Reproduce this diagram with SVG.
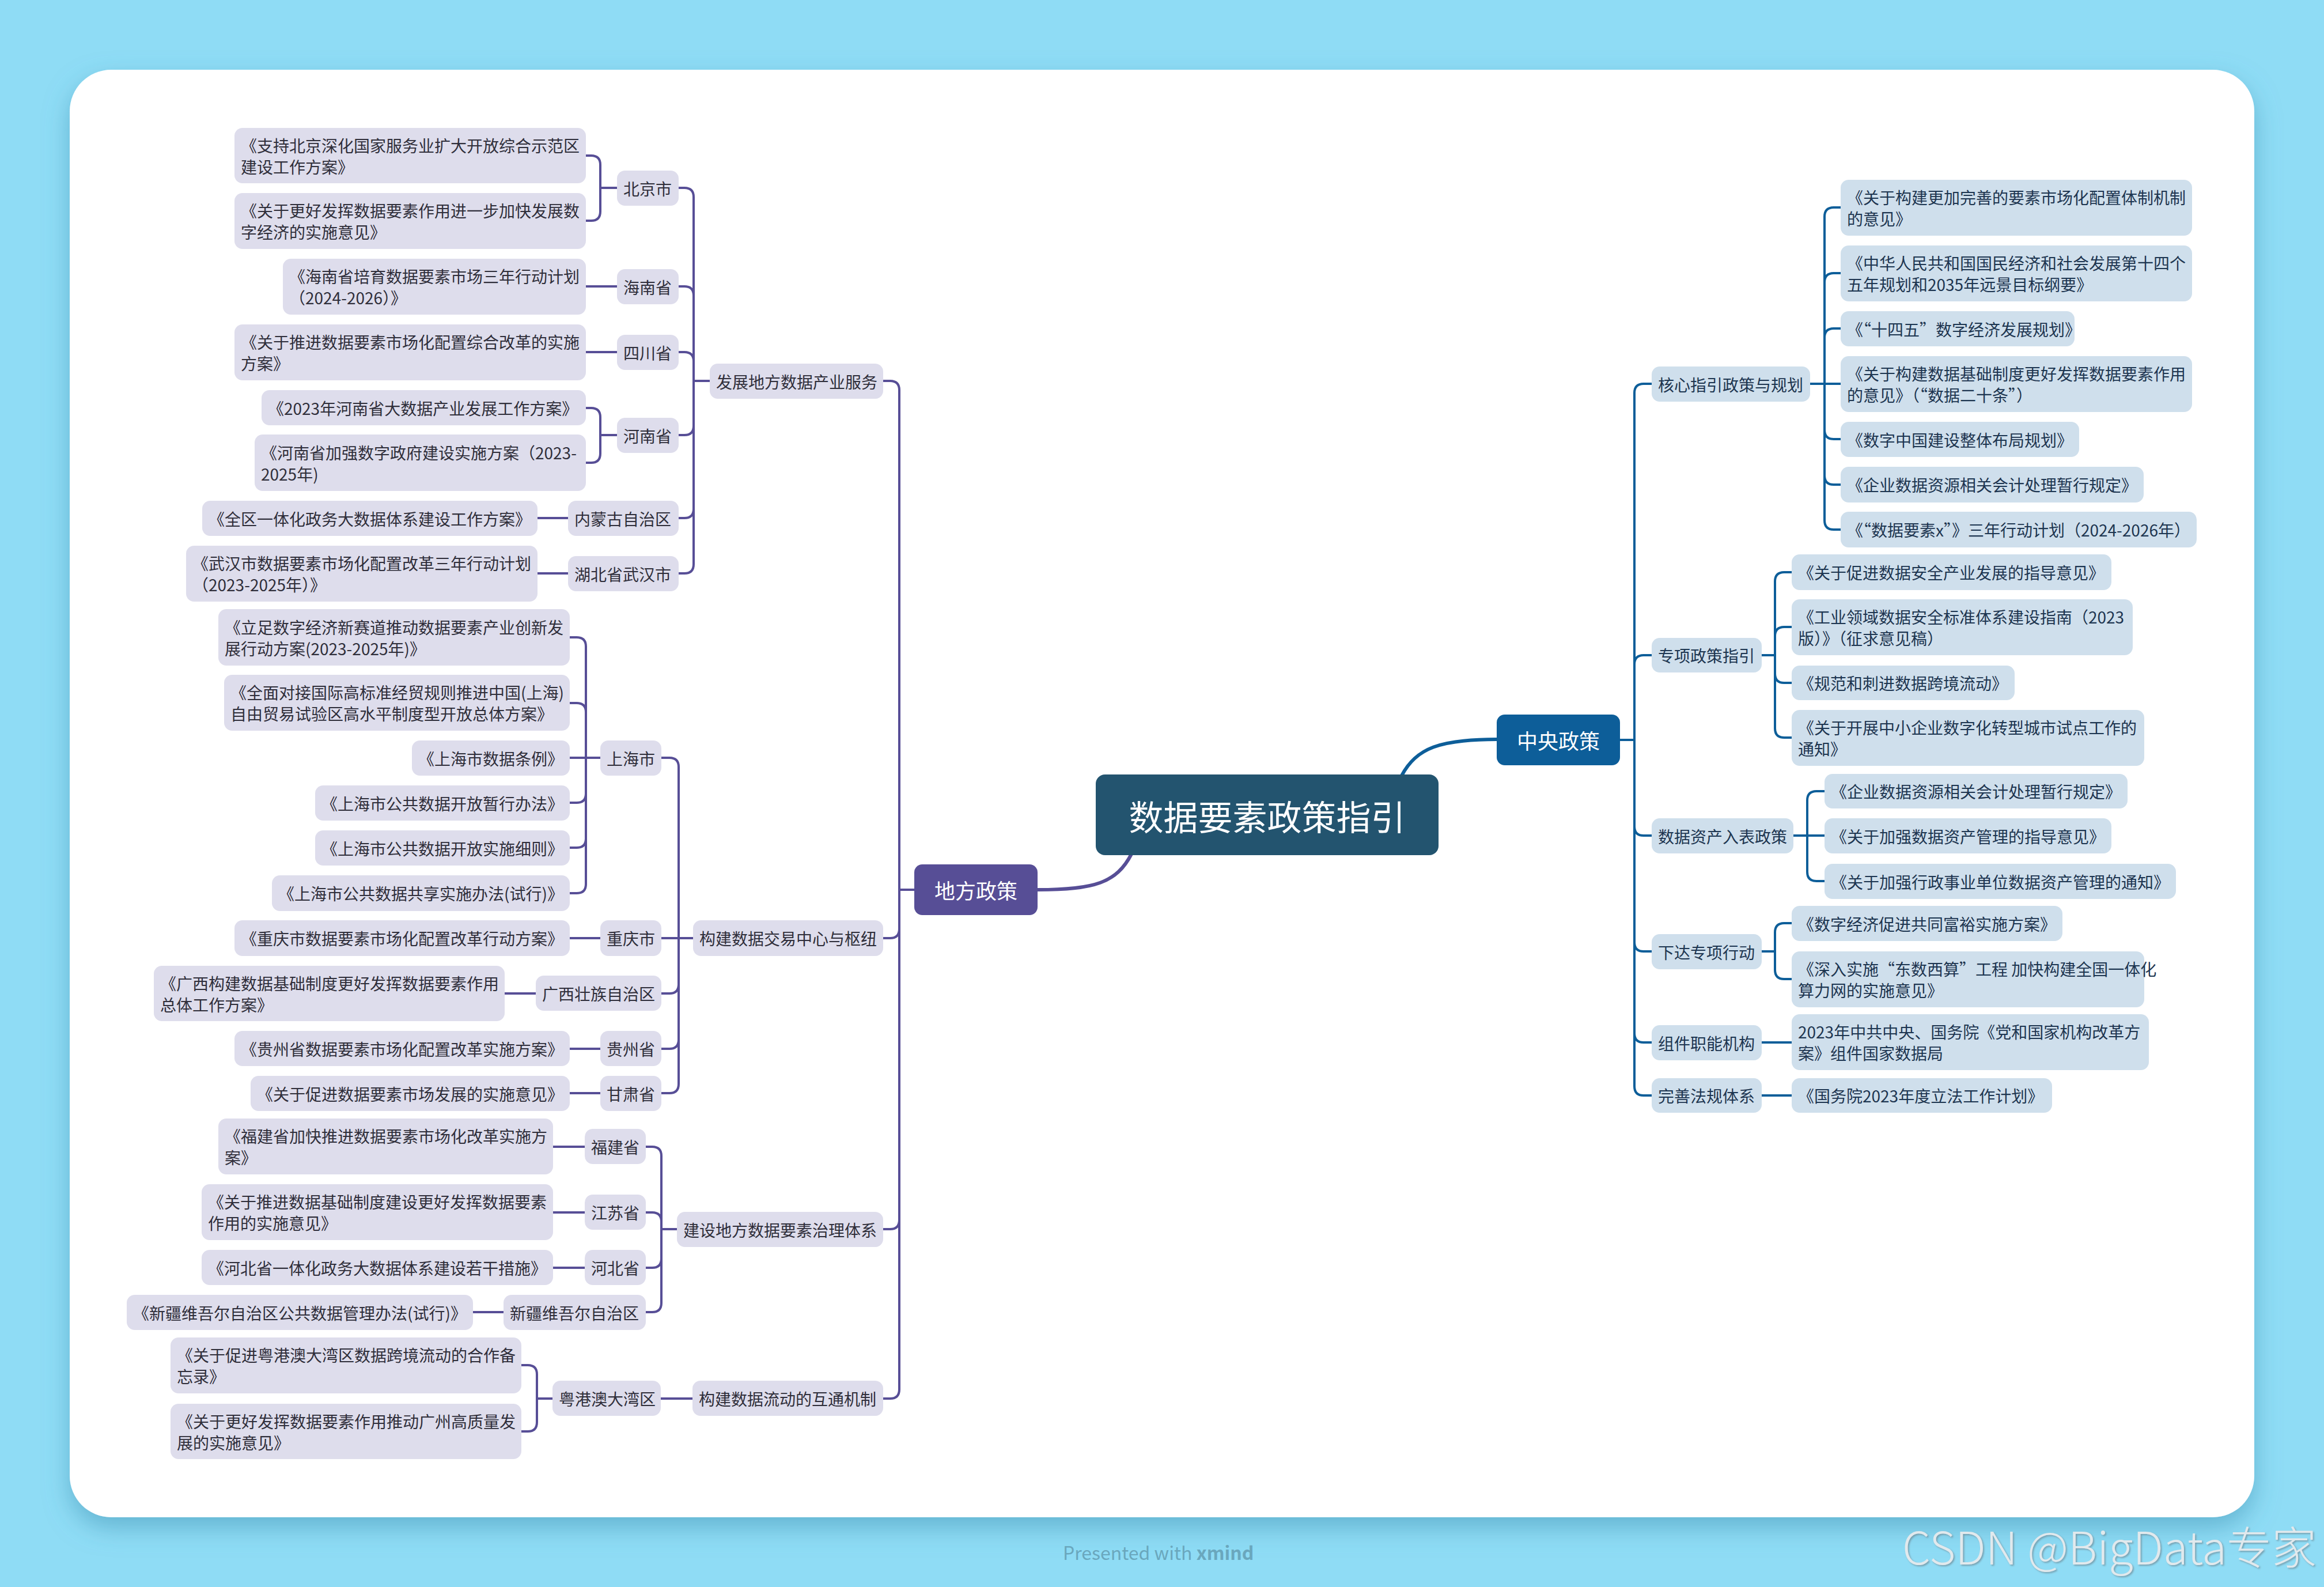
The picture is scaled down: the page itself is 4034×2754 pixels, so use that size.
<svg xmlns="http://www.w3.org/2000/svg" width="4034" height="2754" viewBox="0 0 4034 2754">
<defs>
<filter id="cardShadow" x="-5%" y="-5%" width="110%" height="115%">
<feDropShadow dx="0" dy="18" stdDeviation="22" flood-color="#3f93b4" flood-opacity="0.55"/>
</filter>
<filter id="wmShadow" x="-5%" y="-20%" width="110%" height="140%">
<feDropShadow dx="2" dy="2" stdDeviation="1.5" flood-color="#6f8f9c" flood-opacity="0.8"/>
</filter>
<style>
text{font-family:'Noto Sans CJK SC','Noto Sans',sans-serif;}
.l rect{fill:#DEDDEC;}
.r rect{fill:#CFDFEC;}
.l text{fill:#2f2e3a;font-size:28px;dominant-baseline:central;}
.r text{fill:#1d3550;font-size:28px;dominant-baseline:central;}
.cl{fill:none;stroke:#574E96;stroke-width:4;stroke-linecap:round;}
.cr{fill:none;stroke:#0D5E99;stroke-width:4;stroke-linecap:round;}
.main text{fill:#ffffff;dominant-baseline:central;text-anchor:middle;}
</style>
</defs>
<rect x="0" y="0" width="4034" height="2754" fill="#8FDCF5"/>
<rect x="121" y="121" width="3792" height="2512" rx="72" fill="#ffffff" filter="url(#cardShadow)"/>

<g id="connectors">
<path class="cl" d="M1964 1482C1938 1532 1900 1544 1801 1544" style="stroke-width:6"/>
<path class="cr" d="M2433 1346C2458 1298 2500 1283 2598 1283" style="stroke-width:6"/>
<!-- left main -->
<path class="cl" d="M1533 661H1545Q1561 661 1561 677V1544M1533 1628H1545Q1561 1628 1561 1612V1544M1533 2133H1545Q1561 2133 1561 2117V1544M1533 2427H1545Q1561 2427 1561 2411V1544M1561 1544H1587"/>
<!-- 发展 -->
<path class="cl" d="M1178 326H1188Q1204 326 1204 342V661M1178 497H1188Q1204 497 1204 513V661M1178 611H1188Q1204 611 1204 627V661M1178 755H1188Q1204 755 1204 739V661M1178 899H1188Q1204 899 1204 883V661M1178 995H1188Q1204 995 1204 979V661M1204 661H1232"/>
<path class="cl" d="M1017 270H1026Q1042 270 1042 286V326M1017 383H1026Q1042 383 1042 367V326M1042 326H1071"/>
<path class="cl" d="M1017 497H1071M1017 611H1071"/>
<path class="cl" d="M1017 708H1026Q1042 708 1042 724V755M1017 803H1026Q1042 803 1042 787V755M1042 755H1071"/>
<path class="cl" d="M933 899H986M933 995H986"/>
<!-- 构建交易 -->
<path class="cl" d="M1148 1315H1162Q1178 1315 1178 1331V1628M1148 1628H1178M1148 1724H1162Q1178 1724 1178 1708V1628M1148 1820H1162Q1178 1820 1178 1804V1628M1148 1897H1162Q1178 1897 1178 1881V1628M1178 1628H1203"/>
<path class="cl" d="M989 1106H1001Q1017 1106 1017 1122V1315M989 1220H1001Q1017 1220 1017 1236V1315M989 1315H1017M989 1393H1001Q1017 1393 1017 1377V1315M989 1471H1001Q1017 1471 1017 1455V1315M989 1550H1001Q1017 1550 1017 1534V1315M1017 1315H1042"/>
<path class="cl" d="M989 1628H1042M876 1724H930M989 1820H1042M989 1897H1042"/>
<!-- 治理体系 -->
<path class="cl" d="M1121 1990H1132Q1148 1990 1148 2006V2133M1121 2104H1132Q1148 2104 1148 2120V2133M1121 2200H1132Q1148 2200 1148 2184V2133M1121 2277H1132Q1148 2277 1148 2261V2133M1148 2133H1175"/>
<path class="cl" d="M960 1990H1015M960 2104H1015M960 2200H1015M821 2277H874"/>
<!-- 互通 -->
<path class="cl" d="M1147 2427H1202"/>
<path class="cl" d="M905 2369H916Q932 2369 932 2385V2427M905 2484H916Q932 2484 932 2468V2427M932 2427H959"/>
<!-- right main -->
<path class="cr" d="M2867 666H2853Q2837 666 2837 682V1284M2867 1137H2853Q2837 1137 2837 1153V1284M2867 1450H2853Q2837 1450 2837 1434V1284M2867 1651H2853Q2837 1651 2837 1635V1284M2867 1809H2853Q2837 1809 2837 1793V1284M2867 1901H2853Q2837 1901 2837 1885V1284M2812 1284H2837"/>
<path class="cr" d="M3195 360H3183Q3167 360 3167 376V666M3195 474H3183Q3167 474 3167 490V666M3195 570H3183Q3167 570 3167 586V666M3195 666H3167M3195 762H3183Q3167 762 3167 746V666M3195 841H3183Q3167 841 3167 825V666M3195 919H3183Q3167 919 3167 903V666M3142 666H3167"/>
<path class="cr" d="M3110 993H3097Q3081 993 3081 1009V1137M3110 1088H3097Q3081 1088 3081 1104V1137M3110 1185H3097Q3081 1185 3081 1169V1137M3110 1280H3097Q3081 1280 3081 1264V1137M3058 1137H3081"/>
<path class="cr" d="M3167 1373H3153Q3137 1373 3137 1389V1450M3167 1450H3137M3167 1529H3153Q3137 1529 3137 1513V1450M3113 1450H3137"/>
<path class="cr" d="M3110 1602H3097Q3081 1602 3081 1618V1651M3110 1699H3097Q3081 1699 3081 1683V1651M3058 1651H3081"/>
<path class="cr" d="M3058 1809H3110M3058 1901H3110"/>
</g>

<!-- central -->
<g id="root" class="main">
<rect x="1902" y="1344" width="595" height="140" rx="16" fill="#23546F"/>
<text x="2199.5" y="1414" font-size="60">数据要素政策指引</text>
</g>
<g id="central-policy" class="main">
<rect x="2598" y="1240" width="214" height="88" rx="14" fill="#0D5E99"/>
<text x="2705" y="1284" font-size="36">中央政策</text>
</g>
<g id="local-policy" class="main">
<rect x="1587" y="1500" width="214" height="88" rx="14" fill="#574E96"/>
<text x="1694" y="1544" font-size="36">地方政策</text>
</g>

<!-- LEFT: level 2 -->
<g id="l2-fazhan" class="l"><rect x="1232" y="631" width="301" height="61" rx="14"/><text x="1243" y="661.5">发展地方数据产业服务</text></g>
<g id="l2-jiaoyi" class="l"><rect x="1203" y="1597" width="330" height="62" rx="14"/><text x="1214" y="1628">构建数据交易中心与枢纽</text></g>
<g id="l2-zhili" class="l"><rect x="1175" y="2103" width="358" height="61" rx="14"/><text x="1186" y="2133.5">建设地方数据要素治理体系</text></g>
<g id="l2-hutong" class="l"><rect x="1202" y="2396" width="331" height="61" rx="14"/><text x="1213" y="2426.5">构建数据流动的互通机制</text></g>

<!-- LEFT: level 3 -->
<g id="l3-beijing" class="l"><rect x="1071" y="296" width="107" height="61" rx="14"/><text x="1082" y="326.5">北京市</text></g>
<g id="l3-hainan" class="l"><rect x="1071" y="467" width="107" height="61" rx="14"/><text x="1082" y="497.5">海南省</text></g>
<g id="l3-sichuan" class="l"><rect x="1071" y="581" width="107" height="61" rx="14"/><text x="1082" y="611.5">四川省</text></g>
<g id="l3-henan" class="l"><rect x="1071" y="725" width="107" height="61" rx="14"/><text x="1082" y="755.5">河南省</text></g>
<g id="l3-neimenggu" class="l"><rect x="986" y="869" width="192" height="61" rx="14"/><text x="997" y="899.5">内蒙古自治区</text></g>
<g id="l3-wuhan" class="l"><rect x="986" y="965" width="192" height="61" rx="14"/><text x="997" y="995.5">湖北省武汉市</text></g>
<g id="l3-shanghai" class="l"><rect x="1042" y="1285" width="106" height="61" rx="14"/><text x="1053" y="1315.5">上海市</text></g>
<g id="l3-chongqing" class="l"><rect x="1042" y="1597" width="106" height="62" rx="14"/><text x="1053" y="1628">重庆市</text></g>
<g id="l3-guangxi" class="l"><rect x="930" y="1693" width="218" height="61" rx="14"/><text x="941" y="1723.5">广西壮族自治区</text></g>
<g id="l3-guizhou" class="l"><rect x="1042" y="1789" width="106" height="61" rx="14"/><text x="1053" y="1819.5">贵州省</text></g>
<g id="l3-gansu" class="l"><rect x="1042" y="1867" width="106" height="61" rx="14"/><text x="1053" y="1897.5">甘肃省</text></g>
<g id="l3-fujian" class="l"><rect x="1015" y="1959" width="106" height="61" rx="14"/><text x="1026" y="1989.5">福建省</text></g>
<g id="l3-jiangsu" class="l"><rect x="1015" y="2073" width="106" height="61" rx="14"/><text x="1026" y="2103.5">江苏省</text></g>
<g id="l3-hebei" class="l"><rect x="1015" y="2169" width="106" height="61" rx="14"/><text x="1026" y="2199.5">河北省</text></g>
<g id="l3-xinjiang" class="l"><rect x="874" y="2247" width="247" height="61" rx="14"/><text x="885" y="2277.5">新疆维吾尔自治区</text></g>
<g id="l3-yuegangao" class="l"><rect x="959" y="2396" width="188" height="61" rx="14"/><text x="970" y="2426.5">粤港澳大湾区</text></g>

<!-- LEFT: leaves -->
<g id="lf-bj1" class="l"><rect x="407" y="222" width="610" height="96" rx="14"/><text x="418" y="251.5">《支持北京深化国家服务业扩大开放综合示范区</text><text x="418" y="288.5">建设工作方案》</text></g>
<g id="lf-bj2" class="l"><rect x="407" y="335" width="610" height="97" rx="14"/><text x="418" y="365">《关于更好发挥数据要素作用进一步加快发展数</text><text x="418" y="402">字经济的实施意见》</text></g>
<g id="lf-hn" class="l"><rect x="491" y="449" width="526" height="97" rx="14"/><text x="502" y="479">《海南省培育数据要素市场三年行动计划</text><text x="502" y="516">（2024-2026）》</text></g>
<g id="lf-sc" class="l"><rect x="407" y="563" width="610" height="97" rx="14"/><text x="418" y="593">《关于推进数据要素市场化配置综合改革的实施</text><text x="418" y="630">方案》</text></g>
<g id="lf-hen1" class="l"><rect x="454" y="677" width="563" height="61" rx="14"/><text x="465" y="707.5">《2023年河南省大数据产业发展工作方案》</text></g>
<g id="lf-hen2" class="l"><rect x="442" y="754" width="575" height="98" rx="14"/><text x="453" y="784.5">《河南省加强数字政府建设实施方案（2023-</text><text x="453" y="821.5">2025年)</text></g>
<g id="lf-nmg" class="l"><rect x="351" y="869" width="582" height="61" rx="14"/><text x="362" y="899.5">《全区一体化政务大数据体系建设工作方案》</text></g>
<g id="lf-wh" class="l"><rect x="323" y="947" width="610" height="97" rx="14"/><text x="334" y="977">《武汉市数据要素市场化配置改革三年行动计划</text><text x="334" y="1014">（2023-2025年）》</text></g>

<g id="lf-sh1" class="l"><rect x="379" y="1057" width="610" height="98" rx="14"/><text x="390" y="1087.5">《立足数字经济新赛道推动数据要素产业创新发</text><text x="390" y="1124.5">展行动方案(2023-2025年)》</text></g>
<g id="lf-sh2" class="l"><rect x="389" y="1171" width="600" height="97" rx="14"/><text x="400" y="1201">《全面对接国际高标准经贸规则推进中国(上海)</text><text x="400" y="1238">自由贸易试验区高水平制度型开放总体方案》</text></g>
<g id="lf-sh3" class="l"><rect x="715" y="1285" width="274" height="61" rx="14"/><text x="726" y="1315.5">《上海市数据条例》</text></g>
<g id="lf-sh4" class="l"><rect x="547" y="1363" width="442" height="61" rx="14"/><text x="558" y="1393.5">《上海市公共数据开放暂行办法》</text></g>
<g id="lf-sh5" class="l"><rect x="547" y="1441" width="442" height="61" rx="14"/><text x="558" y="1471.5">《上海市公共数据开放实施细则》</text></g>
<g id="lf-sh6" class="l"><rect x="472" y="1519" width="517" height="62" rx="14"/><text x="483" y="1550">《上海市公共数据共享实施办法(试行)》</text></g>
<g id="lf-cq" class="l"><rect x="407" y="1597" width="582" height="62" rx="14"/><text x="418" y="1628">《重庆市数据要素市场化配置改革行动方案》</text></g>
<g id="lf-gx" class="l"><rect x="267" y="1676" width="609" height="96" rx="14"/><text x="278" y="1705.5">《广西构建数据基础制度更好发挥数据要素作用</text><text x="278" y="1742.5">总体工作方案》</text></g>
<g id="lf-gz" class="l"><rect x="407" y="1789" width="582" height="61" rx="14"/><text x="418" y="1819.5">《贵州省数据要素市场化配置改革实施方案》</text></g>
<g id="lf-gs" class="l"><rect x="435" y="1867" width="554" height="61" rx="14"/><text x="446" y="1897.5">《关于促进数据要素市场发展的实施意见》</text></g>

<g id="lf-fj" class="l"><rect x="379" y="1941" width="581" height="97" rx="14"/><text x="390" y="1971">《福建省加快推进数据要素市场化改革实施方</text><text x="390" y="2008">案》</text></g>
<g id="lf-js" class="l"><rect x="350" y="2055" width="610" height="97" rx="14"/><text x="361" y="2085">《关于推进数据基础制度建设更好发挥数据要素</text><text x="361" y="2122">作用的实施意见》</text></g>
<g id="lf-hb" class="l"><rect x="350" y="2169" width="610" height="61" rx="14"/><text x="361" y="2199.5">《河北省一体化政务大数据体系建设若干措施》</text></g>
<g id="lf-xj" class="l"><rect x="220" y="2247" width="601" height="61" rx="14"/><text x="231" y="2277.5">《新疆维吾尔自治区公共数据管理办法(试行)》</text></g>
<g id="lf-ygа1" class="l"><rect x="296" y="2321" width="609" height="97" rx="14"/><text x="307" y="2351">《关于促进粤港澳大湾区数据跨境流动的合作备</text><text x="307" y="2388">忘录》</text></g>
<g id="lf-yga2" class="l"><rect x="296" y="2436" width="609" height="96" rx="14"/><text x="307" y="2465.5">《关于更好发挥数据要素作用推动广州高质量发</text><text x="307" y="2502.5">展的实施意见》</text></g>

<!-- RIGHT: level 2 -->
<g id="r2-hexin" class="r"><rect x="2867" y="636" width="275" height="61" rx="14"/><text x="2878" y="666.5">核心指引政策与规划</text></g>
<g id="r2-zhuanxiang" class="r"><rect x="2867" y="1107" width="191" height="60" rx="14"/><text x="2878" y="1137">专项政策指引</text></g>
<g id="r2-rubiao" class="r"><rect x="2867" y="1420" width="246" height="61" rx="14"/><text x="2878" y="1450.5">数据资产入表政策</text></g>
<g id="r2-xiada" class="r"><rect x="2867" y="1621" width="191" height="61" rx="14"/><text x="2878" y="1651.5">下达专项行动</text></g>
<g id="r2-zujian" class="r"><rect x="2867" y="1779" width="191" height="61" rx="14"/><text x="2878" y="1809.5">组件职能机构</text></g>
<g id="r2-wanshan" class="r"><rect x="2867" y="1871" width="191" height="60" rx="14"/><text x="2878" y="1901">完善法规体系</text></g>

<!-- RIGHT: leaves -->
<g id="rf-hx1" class="r"><rect x="3195" y="312" width="610" height="97" rx="14"/><text x="3206" y="342">《关于构建更加完善的要素市场化配置体制机制</text><text x="3206" y="379">的意见》</text></g>
<g id="rf-hx2" class="r"><rect x="3195" y="426" width="610" height="97" rx="14"/><text x="3206" y="456">《中华人民共和国国民经济和社会发展第十四个</text><text x="3206" y="493">五年规划和2035年远景目标纲要》</text></g>
<g id="rf-hx3" class="r"><rect x="3195" y="540" width="406" height="61" rx="14"/><text x="3206" y="570.5">《“十四五”数字经济发展规划》</text></g>
<g id="rf-hx4" class="r"><rect x="3195" y="618" width="610" height="97" rx="14"/><text x="3206" y="648">《关于构建数据基础制度更好发挥数据要素作用</text><text x="3206" y="685">的意见》（“数据二十条”）</text></g>
<g id="rf-hx5" class="r"><rect x="3195" y="732" width="414" height="61" rx="14"/><text x="3206" y="762.5">《数字中国建设整体布局规划》</text></g>
<g id="rf-hx6" class="r"><rect x="3195" y="810" width="526" height="62" rx="14"/><text x="3206" y="841">《企业数据资源相关会计处理暂行规定》</text></g>
<g id="rf-hx7" class="r"><rect x="3195" y="888" width="618" height="62" rx="14"/><text x="3206" y="919">《“数据要素x”》三年行动计划（2024-2026年）</text></g>

<g id="rf-zx1" class="r"><rect x="3110" y="962" width="555" height="62" rx="14"/><text x="3121" y="993">《关于促进数据安全产业发展的指导意见》</text></g>
<g id="rf-zx2" class="r"><rect x="3110" y="1040" width="592" height="97" rx="14"/><text x="3121" y="1070">《工业领域数据安全标准体系建设指南（2023</text><text x="3121" y="1107">版）》（征求意见稿）</text></g>
<g id="rf-zx3" class="r"><rect x="3110" y="1155" width="387" height="60" rx="14"/><text x="3121" y="1185">《规范和刺进数据跨境流动》</text></g>
<g id="rf-zx4" class="r"><rect x="3110" y="1232" width="612" height="97" rx="14"/><text x="3121" y="1262">《关于开展中小企业数字化转型城市试点工作的</text><text x="3121" y="1299">通知》</text></g>

<g id="rf-rb1" class="r"><rect x="3167" y="1343" width="526" height="60" rx="14"/><text x="3178" y="1373">《企业数据资源相关会计处理暂行规定》</text></g>
<g id="rf-rb2" class="r"><rect x="3167" y="1420" width="498" height="61" rx="14"/><text x="3178" y="1450.5">《关于加强数据资产管理的指导意见》</text></g>
<g id="rf-rb3" class="r"><rect x="3167" y="1499" width="610" height="61" rx="14"/><text x="3178" y="1529.5">《关于加强行政事业单位数据资产管理的通知》</text></g>

<g id="rf-xd1" class="r"><rect x="3110" y="1572" width="470" height="61" rx="14"/><text x="3121" y="1602.5">《数字经济促进共同富裕实施方案》</text></g>
<g id="rf-xd2" class="r"><rect x="3110" y="1651" width="612" height="97" rx="14"/><text x="3121" y="1681">《深入实施“东数西算”工程 加快构建全国一体化</text><text x="3121" y="1718">算力网的实施意见》</text></g>

<g id="rf-zj" class="r"><rect x="3110" y="1760" width="620" height="97" rx="14"/><text x="3121" y="1790">2023年中共中央、国务院《党和国家机构改革方</text><text x="3121" y="1827">案》组件国家数据局</text></g>
<g id="rf-ws" class="r"><rect x="3110" y="1871" width="452" height="60" rx="14"/><text x="3121" y="1901">《国务院2023年度立法工作计划》</text></g>

<!-- footer -->
<text x="1845" y="2707" font-size="32" fill="#6aa7bd">Presented with <tspan font-weight="700">xmind</tspan></text>
<text x="3302" y="2715" font-size="78" font-weight="300" fill="#e1e9ed" filter="url(#wmShadow)">CSDN @BigData专家</text>
</svg>
